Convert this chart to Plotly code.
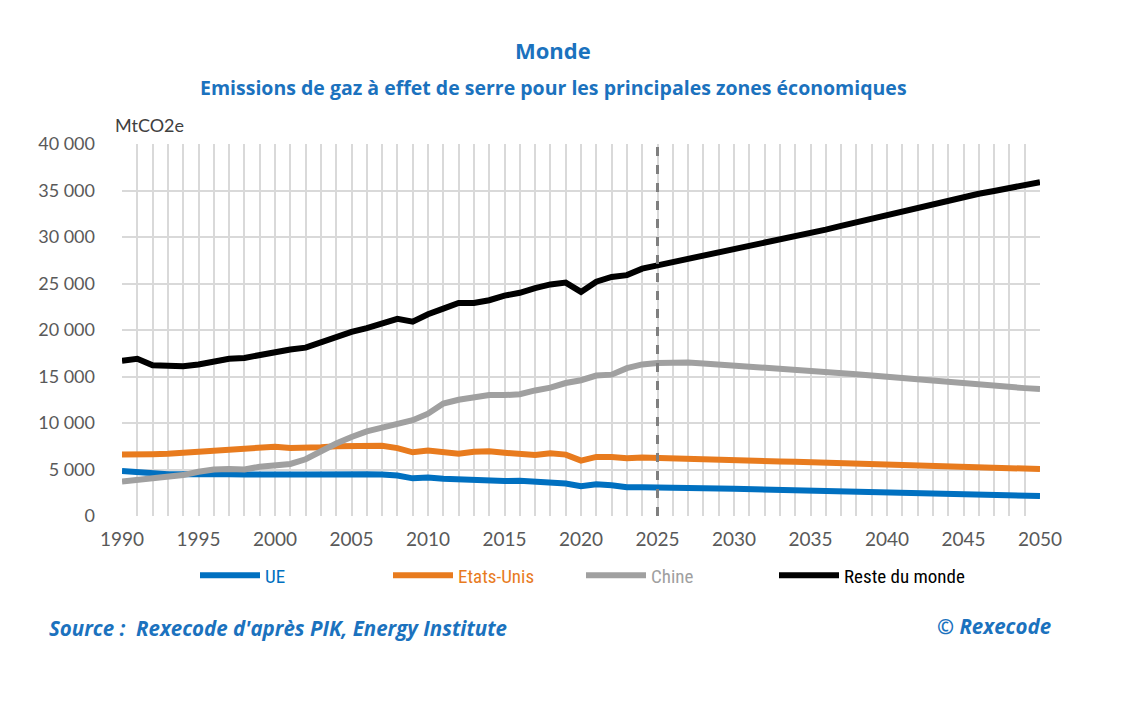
import plotly.graph_objects as go

years = list(range(1990, 2051))

ue = [4850, 4700, 4550, 4500, 4500, 4550, 4600, 4500, 4450, 4400,
      4400, 4450, 4450, 4500, 4500, 4500, 4500, 4450, 4350, 4050,
      4150, 4000, 3950, 3850, 3700, 3750, 3800, 3750, 3700, 3500,
      3200, 3400, 3300, 3100, 3100, 3100,
      3080, 3040, 3000, 2960, 2920, 2880, 2840, 2800, 2760, 2720,
      2680, 2640, 2600, 2560, 2520, 2480, 2440, 2400, 2360, 2320,
      2280, 2240, 2200, 2170, 2150]

etats_unis = [6600, 6550, 6650, 6700, 6800, 6900, 7050, 7150, 7200, 7250,
              7450, 7300, 7300, 7400, 7500, 7500, 7450, 7550, 7300, 6850,
              7050, 6900, 6700, 6900, 6950, 6800, 6600, 6550, 6750, 6600,
              5950, 6350, 6350, 6200, 6300, 6270,
              6220, 6170, 6120, 6070, 6020, 5970, 5920, 5870, 5820, 5770,
              5720, 5670, 5620, 5570, 5520, 5470, 5420, 5370, 5320, 5270,
              5220, 5170, 5120, 5080, 5050]

chine = [3700, 3850, 3950, 4150, 4400, 4750, 5000, 5050, 5000, 5300,
         5450, 5600, 6100, 7000, 7800, 8500, 9100, 9500, 9900, 10300,
         11000, 12100, 12500, 12800, 13000, 13000, 13100, 13500, 13800, 14300,
         14600, 15100, 15200, 15900, 16300, 16450,
         16550, 16500, 16400, 16300, 16200, 16100, 16000, 15900, 15750, 15650,
         15500, 15400, 15250, 15100, 14950, 14800, 14650, 14500, 14350, 14200,
         14100, 13950, 13850, 13750, 13650]

reste = [16700, 16900, 16200, 16200, 16100, 16300, 16600, 16900, 17000, 17300,
         17700, 17900, 18100, 18700, 19300, 19800, 20200, 20700, 21200, 20900,
         21700, 22300, 22900, 22900, 23200, 23700, 24000, 24500, 24900, 25100,
         24100, 25200, 25700, 25900, 26600, 26950,
         27300, 27600, 27900, 28200, 28550, 28900, 29250, 29600, 30000, 30400,
         30800, 31200, 31600, 32000, 32400, 32750, 33150, 33550, 33900, 34300,
         34650, 34950, 35300, 35600, 35900]

series = [("UE", ue, "#0070C0"),
          ("Etats-Unis", etats_unis, "#E87B1E"),
          ("Chine", chine, "#A0A0A0"),
          ("Reste du monde", reste, "#000000")]

blue = "#1B72BE"
grid = "#D9D9D9"
tfont = "Open Sans, Lato, sans-serif"

fig = go.Figure()
for name, vals, col in series:
    fig.add_trace(go.Scatter(
        x=years, y=vals, mode="lines",
        name="<span style='color:%s'>%s</span>" % (col, name),
        line=dict(color=col, width=6)))

# projection start
fig.add_shape(type="line", x0=2025, x1=2025, y0=0, y1=39700,
              xref="x", yref="y", line=dict(color="#7F7F7F", width=3, dash="dash"))

fig.update_layout(
    width=1125, height=721,
    margin=dict(l=114, r=93, t=136, b=213),
    paper_bgcolor="white", plot_bgcolor="white",
    separators=", ",
    font=dict(family="Lato, Open Sans, sans-serif", color="#595959"),
    showlegend=True,
    legend=dict(orientation="h", x=0.5, xanchor="center", y=-0.16, yanchor="middle",
                font=dict(size=19, family="Roboto Condensed, Liberation Sans Narrow, Roboto, sans-serif"),
                entrywidth=118, itemwidth=60),
    xaxis=dict(range=[1990, 2050], dtick=5, tick0=1990, showgrid=True, gridcolor=grid, gridwidth=2,
               minor=dict(dtick=1, showgrid=True, gridcolor=grid, gridwidth=2),
               zeroline=False, showline=False, ticks="", ticklabelstandoff=10,
               tickfont=dict(size=19, color="#595959")),
    yaxis=dict(range=[0, 40000], dtick=5000, tickformat=",d", showgrid=True, gridcolor=grid, gridwidth=2,
               zeroline=False, showline=False, ticks="", ticklabelstandoff=26,
               tickfont=dict(size=18, color="#595959")),
    annotations=[
        dict(text="<b>Monde</b>", xref="paper", yref="paper", x=0.47, y=1.0, xanchor="center", yanchor="middle",
             yshift=94, showarrow=False, font=dict(size=22, color=blue, family=tfont)),
        dict(text="<b>Emissions de gaz à effet de serre pour les principales zones économiques</b>",
             xref="paper", yref="paper", x=0.47, y=1.0, xanchor="center", yanchor="middle",
             yshift=57, showarrow=False, font=dict(size=19.5, color=blue, family=tfont)),
        dict(text="MtCO2e", xref="paper", yref="paper", x=-0.01, y=1.0, xanchor="left", yanchor="middle",
             yshift=19, showarrow=False, font=dict(size=18, color="#404040")),
        dict(text="<b><i>Source :  Rexecode d'après PIK, Energy Institute</i></b>", xref="paper", yref="paper",
             x=-0.082, y=-0.30, xanchor="left", yanchor="middle", showarrow=False,
             font=dict(size=20.5, color=blue, family=tfont)),
        dict(text="<b><i>© Rexecode</i></b>", xref="paper", yref="paper",
             x=1.014, y=-0.297, xanchor="right", yanchor="middle", showarrow=False,
             font=dict(size=20.5, color=blue, family=tfont)),
    ],
)

fig.write_html("out.html")
